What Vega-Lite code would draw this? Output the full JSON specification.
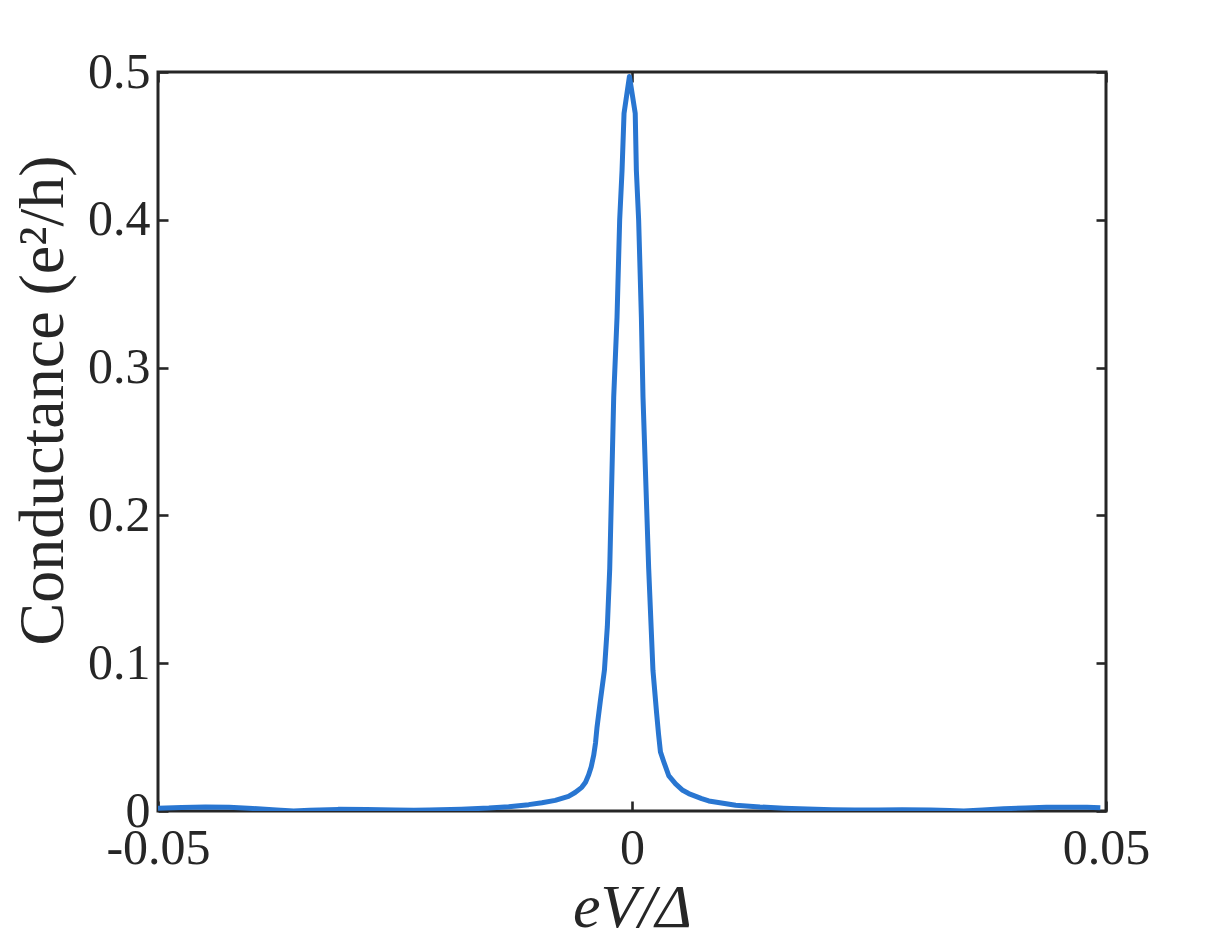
{
  "$schema": "https://vega.github.io/schema/vega-lite/v6.json",
  "autosize": {"type": "none"},
  "width": 948,
  "height": 739,
  "padding": {"left": 158, "top": 72, "right": 117, "bottom": 138},
  "background": "white",
  "data": {"values": [
    {"v": -0.0500, "g": 0.0018}, {"v": -0.0475, "g": 0.0024}, {"v": -0.0450, "g": 0.0027},
    {"v": -0.0425, "g": 0.0025}, {"v": -0.0400, "g": 0.0017}, {"v": -0.0375, "g": 0.0007},
    {"v": -0.0357, "g": 0.0000}, {"v": -0.0340, "g": 0.0005}, {"v": -0.0310, "g": 0.0011},
    {"v": -0.0280, "g": 0.0010}, {"v": -0.0250, "g": 0.0006}, {"v": -0.0230, "g": 0.0005},
    {"v": -0.0214, "g": 0.0007}, {"v": -0.0180, "g": 0.0012}, {"v": -0.0151, "g": 0.0020},
    {"v": -0.0130, "g": 0.0029}, {"v": -0.0109, "g": 0.0043}, {"v": -0.0095, "g": 0.0056},
    {"v": -0.0081, "g": 0.0072}, {"v": -0.0067, "g": 0.0099}, {"v": -0.0060, "g": 0.0125},
    {"v": -0.0053, "g": 0.0160}, {"v": -0.0049, "g": 0.0195}, {"v": -0.00457, "g": 0.0245},
    {"v": -0.0043, "g": 0.0300}, {"v": -0.00404, "g": 0.0377}, {"v": -0.00385, "g": 0.0460},
    {"v": -0.00369, "g": 0.0566}, {"v": -0.00333, "g": 0.0749}, {"v": -0.00291, "g": 0.0952},
    {"v": -0.0026, "g": 0.125}, {"v": -0.00235, "g": 0.164}, {"v": -0.00193, "g": 0.280},
    {"v": -0.00158, "g": 0.334}, {"v": -0.0013, "g": 0.400}, {"v": -0.00105, "g": 0.4335},
    {"v": -0.00084, "g": 0.472}, {"v": -0.00027, "g": 0.497}, {"v": 0.00034, "g": 0.472},
    {"v": 0.00046, "g": 0.4335}, {"v": 0.0007, "g": 0.400}, {"v": 0.00099, "g": 0.334},
    {"v": 0.00116, "g": 0.280}, {"v": 0.00176, "g": 0.164}, {"v": 0.00221, "g": 0.0952},
    {"v": 0.0026, "g": 0.066}, {"v": 0.0028, "g": 0.052}, {"v": 0.0030, "g": 0.040},
    {"v": 0.00334, "g": 0.0335}, {"v": 0.00387, "g": 0.0240}, {"v": 0.0046, "g": 0.0184},
    {"v": 0.00535, "g": 0.0140}, {"v": 0.00598, "g": 0.0118}, {"v": 0.00735, "g": 0.0084},
    {"v": 0.0081, "g": 0.0068}, {"v": 0.01094, "g": 0.0039}, {"v": 0.0135, "g": 0.0027},
    {"v": 0.0160, "g": 0.0019}, {"v": 0.0185, "g": 0.0013}, {"v": 0.0211, "g": 0.0009},
    {"v": 0.0235, "g": 0.0006}, {"v": 0.0260, "g": 0.0006}, {"v": 0.0285, "g": 0.0008},
    {"v": 0.0315, "g": 0.0007}, {"v": 0.0335, "g": 0.0003}, {"v": 0.0350, "g": 0.0000},
    {"v": 0.0370, "g": 0.0007}, {"v": 0.0392, "g": 0.0015}, {"v": 0.0415, "g": 0.0021},
    {"v": 0.0437, "g": 0.0025}, {"v": 0.0460, "g": 0.0026}, {"v": 0.0480, "g": 0.0025},
    {"v": 0.0494, "g": 0.0022}
  ]},
  "layer": [
    {
      "mark": {"type": "line", "color": "#2976d1", "strokeWidth": 5, "clip": true, "strokeJoin": "round"},
      "encoding": {
        "x": {"field": "v", "type": "quantitative",
          "scale": {"domain": [-0.05, 0.05], "nice": false, "zero": false},
          "axis": {"orient": "bottom", "values": [-0.05, 0, 0.05], "labelExpr": "'' + datum.value",
            "title": "eV/Δ", "titleFontStyle": "italic", "titleFontWeight": "normal", "titleFontSize": 62, "titlePadding": 4,
            "labelFontSize": 50, "labelPadding": 22, "tickSize": -10, "labelFlush": false}},
        "y": {"field": "g", "type": "quantitative",
          "scale": {"domain": [0, 0.5], "nice": false},
          "axis": {"orient": "left", "values": [0, 0.1, 0.2, 0.3, 0.4, 0.5], "labelExpr": "'' + datum.value",
            "title": "Conductance (e²/h)", "titleFontWeight": "normal", "titleFontSize": 64, "titlePadding": 12, "titleY": 328,
            "labelFontSize": 50, "labelPadding": 18, "tickSize": -10, "labelFlush": false}}
      }
    },
    {
      "mark": {"type": "line", "opacity": 0},
      "encoding": {
        "x": {"field": "v", "type": "quantitative",
          "axis": {"orient": "top", "values": [-0.05, 0, 0.05], "labels": false, "title": null, "tickSize": -10}},
        "y": {"field": "g", "type": "quantitative",
          "axis": {"orient": "right", "values": [0, 0.1, 0.2, 0.3, 0.4, 0.5], "labels": false, "title": null, "tickSize": -10}}
      }
    }
  ],
  "resolve": {"axis": {"x": "independent", "y": "independent"}},
  "config": {
    "view": {"stroke": "#262626", "strokeWidth": 3},
    "axis": {
      "domain": false, "grid": false,
      "tickColor": "#262626", "tickWidth": 2.6,
      "labelColor": "#262626", "titleColor": "#262626",
      "labelFont": "Liberation Serif", "titleFont": "Liberation Serif"
    }
  }
}
